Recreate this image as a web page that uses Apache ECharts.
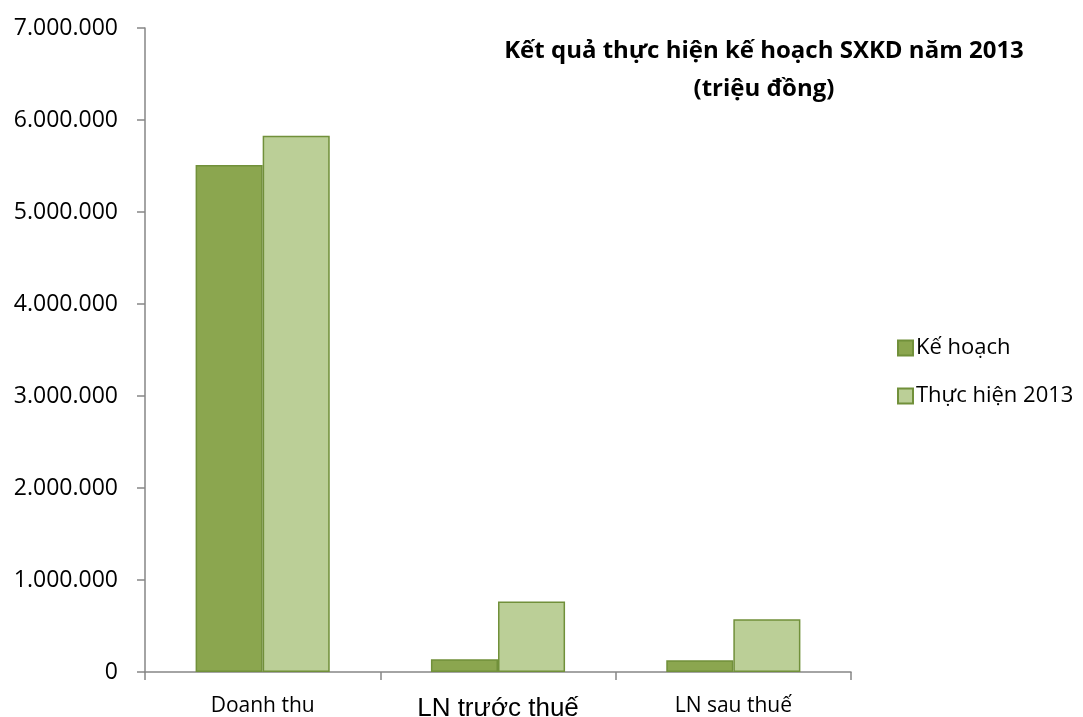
<!DOCTYPE html>
<html>
<head>
<meta charset="utf-8">
<style>
  html, body { margin: 0; padding: 0; background: #fff; }
  #chart { width: 1083px; height: 717px; }
</style>
<script src="https://cdn.jsdelivr.net/npm/echarts@6/dist/echarts.min.js"></script>
</head>
<body>
<div id="chart"></div>
<script>
// dữ liệu (triệu đồng)
var categories = ['Doanh thu', 'LN trước thuế', 'LN sau thuế'];
var keHoach = [5510000, 138000, 127000];
var thucHien = [5830000, 765000, 573000];
var seriesNames = ['Kế hoạch', 'Thực hiện 2013'];

var chart = echarts.init(document.getElementById('chart'));
var font = '"Open Sans", "Noto Sans", sans-serif';

function fmt(v) {
  return String(v).replace(/\B(?=(\d{3})+(?!\d))/g, '.');
}

var option = {
  animation: false,
  title: {
    text: 'Kết quả thực hiện kế hoạch SXKD năm 2013\n(triệu đồng)',
    left: 759,
    top: 27,
    textAlign: 'center',
    textStyle: {
      fontFamily: font,
      fontSize: 24,
      fontWeight: 'bold',
      color: '#000',
      lineHeight: 38
    }
  },
  legend: {
    orient: 'vertical',
    left: 892,
    top: 332,
    icon: 'rect',
    itemWidth: 15,
    itemHeight: 15,
    itemGap: 26,
    data: seriesNames,
    textStyle: { fontFamily: font, fontSize: 22, color: '#000', padding: [0, 0, 0, -2] }
  },
  grid: {
    left: 145,
    right: 232,
    top: 28,
    bottom: 45,
    containLabel: false,
    outerBoundsMode: 'none'
  },
  xAxis: {
    type: 'category',
    data: categories,
    axisLine: { lineStyle: { color: '#868686', width: 1.5 } },
    axisTick: { show: true, length: 8, alignWithLabel: false, lineStyle: { color: '#868686', width: 1.5 } },
    axisLabel: {
      interval: 0,
      hideOverlap: false,
      margin: 24,
      fontFamily: font,
      fontSize: 21,
      color: '#000',
      formatter: function (v, i) {
        return i === 1 ? '{big|' + v + '}' : v;
      },
      rich: {
        big: { fontFamily: 'Liberation Sans, Arial, sans-serif', fontSize: 26, color: '#000' }
      }
    }
  },
  yAxis: {
    type: 'value',
    min: 0,
    max: 7000000,
    interval: 1000000,
    axisLine: { show: true, lineStyle: { color: '#868686', width: 1.5 } },
    axisTick: { show: true, inside: false, length: 8, lineStyle: { color: '#868686', width: 1.5 } },
    splitLine: { show: false },
    axisLabel: {
      margin: 27,
      fontFamily: font,
      fontSize: 23,
      color: '#000',
      formatter: fmt
    }
  },
  series: [
    {
      name: seriesNames[0],
      type: 'bar',
      data: keHoach,
      barGap: '0%',
      barCategoryGap: '43%',
      itemStyle: { color: '#8BA64F', borderColor: '#71903A', borderWidth: 1.5 }
    },
    {
      name: seriesNames[1],
      type: 'bar',
      data: thucHien,
      itemStyle: { color: '#BBCF97', borderColor: '#71903A', borderWidth: 1.5 }
    }
  ]
};

chart.setOption(option);
</script>
</body>
</html>
